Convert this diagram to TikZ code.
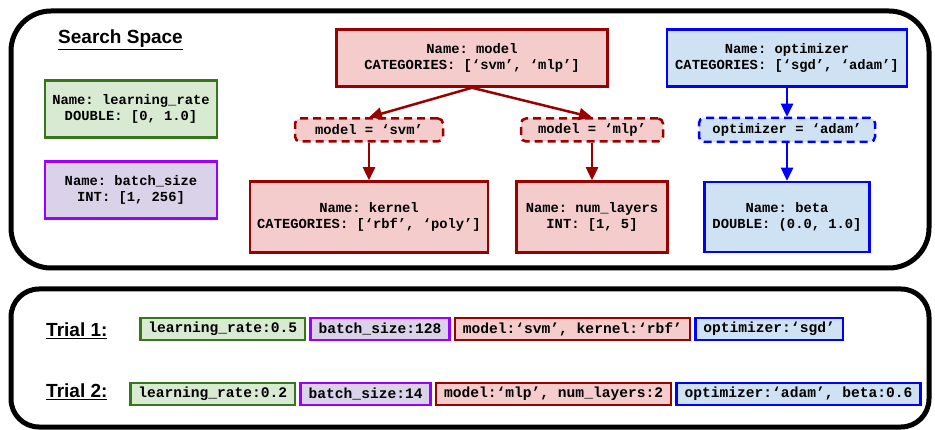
\documentclass[tikz,border=0pt]{standalone}
\usepackage{fontspec}
\setmainfont{Liberation Sans}
\newfontfamily\codefont{Liberation Mono}
\usetikzlibrary{arrows.meta,positioning}
\frenchspacing

\definecolor{lrfill}{HTML}{D9EAD3}
\definecolor{lrline}{HTML}{38761D}
\definecolor{bsfill}{HTML}{D9D2E9}
\definecolor{bsline}{HTML}{9900FF}
\definecolor{mdfill}{HTML}{F4CCCC}
\definecolor{mdline}{HTML}{990000}
\definecolor{opfill}{HTML}{CFE2F3}
\definecolor{opline}{HTML}{0000FF}

\tikzset{
  param/.style={draw, line width=2.5pt, align=center, inner sep=0pt,
    font=\codefont\bfseries\fontsize{13.8}{16}\selectfont},
  cond/.style={param, dash pattern=on 8pt off 5pt, rounded corners=5pt},
  trial/.style={draw, line width=2.5pt, inner xsep=8pt, inner ysep=0pt,
    minimum height=22pt, font=\codefont\bfseries\fontsize{14.6}{17}\selectfont},
  title/.style={font=\bfseries\fontsize{19}{22}\selectfont, inner sep=0pt},
  lrbox/.style={draw=lrline, fill=lrfill},
  bsbox/.style={draw=bsline, fill=bsfill},
  mdbox/.style={draw=mdline, fill=mdfill},
  opbox/.style={draw=opline, fill=opfill},
  link/.style={line width=2.5pt, -{Triangle[length=13pt,width=12pt]}},
}

\begin{document}
\begin{tikzpicture}[x=1pt, y=-1pt]
  \useasboundingbox (0,0) rectangle (935,430);

  % frames
  \draw [line width=5pt, rounded corners=40pt] (11,11) rectangle (929,268);
  \draw [line width=5pt, rounded corners=28pt] (11,289) rectangle (929,427);

  % search space
  \node [title, anchor=base west] (space) at (58,44) {\underline{Search Space}};

  \node [param, lrbox, minimum width=172pt, minimum height=57pt] (lr) at (131,109)
    {Name: learning\_rate\\DOUBLE: [0, 1.0]};
  \node [param, bsbox, minimum width=172pt, minimum height=57pt] (bs) at (131,190)
    {Name: batch\_size\\INT: [1, 256]};

  \node [param, mdbox, minimum width=271pt, minimum height=57pt] (model) at (472,58)
    {Name: model\\CATEGORIES: [‘svm’, ‘mlp’]};
  \node [cond, mdbox, minimum width=148pt, minimum height=23pt] (svm) at (369,130)
    {model = ‘svm’};
  \node [cond, mdbox, minimum width=142pt, minimum height=23pt] (mlp) at (592,130)
    {model = ‘mlp’};
  \node [param, mdbox, minimum width=238pt, minimum height=71pt] (kernel) at (369,217)
    {Name: kernel\\CATEGORIES: [‘rbf’, ‘poly’]};
  \node [param, mdbox, minimum width=151pt, minimum height=71pt] (layers) at (592,217)
    {Name: num\_layers\\INT: [1, 5]};

  \node [param, opbox, minimum width=240pt, minimum height=57pt] (opt) at (787,58)
    {Name: optimizer\\CATEGORIES: [‘sgd’, ‘adam’]};
  \node [cond, opbox, minimum width=176pt, minimum height=24pt] (adam) at (787,130)
    {optimizer = ‘adam’};
  \node [param, opbox, minimum width=165pt, minimum height=70pt] (beta) at (787,217)
    {Name: beta\\DOUBLE: (0.0, 1.0]};

  \draw [link, mdline] (model.south) -- (svm.north);
  \draw [link, mdline] (model.south) -- (mlp.north);
  \draw [link, mdline] (svm.south) -- (kernel.north);
  \draw [link, mdline] (mlp.south) -- (layers.north);
  \draw [link, opline] (opt.south) -- (adam.north);
  \draw [link, opline] (adam.south) -- (beta.north);

  % trials
  \node [title, anchor=base west] (trial1) at (46,337) {\underline{Trial 1:}};
  \node [trial, lrbox, anchor=west] (t1lr) at (139,329) {learning\_rate:0.5};
  \node [trial, bsbox, right=3pt of t1lr] (t1bs) {batch\_size:128};
  \node [trial, mdbox, right=3pt of t1bs] (t1md) {model:‘svm’, kernel:‘rbf’};
  \node [trial, opbox, right=3pt of t1md] (t1op) {optimizer:‘sgd’};

  \node [title, anchor=base west] (trial2) at (46,398) {\underline{Trial 2:}};
  \node [trial, lrbox, anchor=west] (t2lr) at (129,394) {learning\_rate:0.2};
  \node [trial, bsbox, right=3pt of t2lr] (t2bs) {batch\_size:14};
  \node [trial, mdbox, right=3pt of t2bs] (t2md) {model:‘mlp’, num\_layers:2};
  \node [trial, opbox, right=3pt of t2md] (t2op) {optimizer:‘adam’, beta:0.6};
\end{tikzpicture}
\end{document}
